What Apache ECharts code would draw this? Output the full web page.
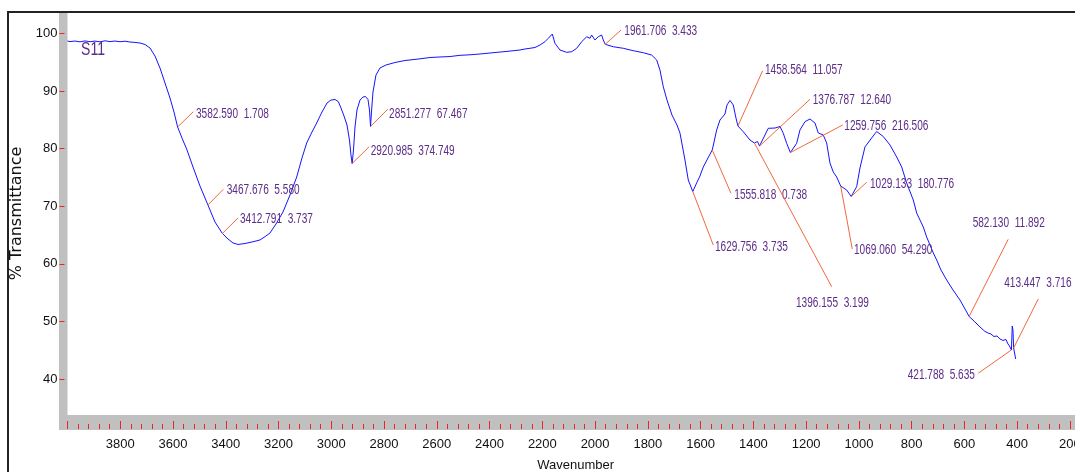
<!DOCTYPE html>
<html>
<head>
<meta charset="utf-8">
<script src="https://cdn.jsdelivr.net/npm/echarts@6/dist/echarts.min.js"></script>
<style>
  html, body { margin: 0; padding: 0; background: #fff; }
  #chart { width: 1075px; height: 472px; }
</style>
</head>
<body>
<div id="chart"></div>
<script>
// FTIR spectrum of sample S11: wavenumber (cm-1) vs. % transmittance
const wavenumber = [
  4000, 3990.5, 3971.6, 3952.6, 3933.7, 3914.7, 3895.8, 3876.8, 3857.9, 3838.9,
  3819.9, 3801, 3782, 3763.1, 3744.1, 3725.2, 3706.2, 3687.3, 3668.3, 3649.4,
  3630.4, 3611.5, 3596.3, 3582.590, 3566, 3547, 3524.3, 3497.8, 3467.676, 3440.9,
  3412.791, 3391.6, 3372.7, 3353.7, 3327.2, 3300.6, 3270.3, 3247.6, 3232.4, 3209.7,
  3183.1, 3156.6, 3131.2, 3111.1, 3093.3, 3073.2, 3055.4, 3035.3, 3016.3, 3001.2,
  2986, 2973.5, 2963.3, 2951.9, 2940.5, 2931.1, 2925.4, 2920.985, 2915.9, 2910.2,
  2902.6, 2891.2, 2879.9, 2870.4, 2860.9, 2855.2, 2851.277, 2847.7, 2842, 2830.6,
  2815.4, 2792.7, 2758.6, 2720.7, 2663.8, 2625.9, 2588, 2550.1, 2512.2, 2474.3,
  2436.4, 2398.5, 2360.6, 2330.3, 2303.7, 2284.8, 2265.8, 2246.9, 2227.9, 2208.9,
  2190, 2177.5, 2171, 2162.3, 2152.1, 2133.1, 2107.7, 2088.8, 2069.8, 2050.9,
  2031.9, 2019.4, 2013, 2000.5, 1987.9, 1975.1, 1969, 1961.706, 1931.1, 1893.2,
  1855.3, 1817.4, 1785.5, 1766.6, 1754.1, 1741.6, 1727.5, 1708.6, 1689.6, 1678.3,
  1659.3, 1646.8, 1629.756, 1615, 1602.5, 1589.9, 1572.1, 1555.818, 1539.2, 1526.6,
  1507.7, 1500.1, 1488.7, 1476.2, 1466, 1458.564, 1438.3, 1412.9, 1396.155, 1384.5,
  1376.787, 1356.1, 1343.6, 1318.2, 1299.2, 1286.7, 1273.8, 1259.756, 1235.9, 1223.4,
  1204.4, 1185.5, 1166.5, 1154, 1135.1, 1122.2, 1109.7, 1097.2, 1084.3, 1069.060,
  1046.4, 1029.133, 1008.5, 995.9, 977, 951.6, 932.6, 907.6, 882.2, 856.8,
  837.9, 818.9, 793.9, 781, 756, 743.1, 718, 705.2, 688.9, 667.3,
  643.4, 616.8, 597.8, 582.130, 560, 541.1, 522.1, 510.8, 499.4, 488,
  476.6, 465.3, 453.9, 442.5, 434.9, 429.3, 421.788, 418.7, 416, 413.447,
  405.7
];
const transmittance = [
  98.66, 98.56, 98.66, 98.52, 98.68, 98.54, 98.65, 98.52, 98.70, 98.56,
  98.66, 98.54, 98.63, 98.49, 98.42, 98.32, 98.06, 97.45, 96.06, 93.98,
  91.37, 88.77, 86.34, 83.74, 81.83, 79.75, 76.80, 73.50, 70.20, 67.25,
  65.26, 64.30, 63.61, 63.35, 63.52, 63.78, 64.13, 64.82, 65.34, 66.90,
  68.99, 71.94, 75.06, 78.36, 80.96, 82.87, 84.43, 86.34, 87.90, 88.42,
  88.51, 88.16, 87.04, 85.65, 84.09, 81.48, 78.88, 77.40, 79.75, 83.74,
  86.69, 88.42, 88.94, 89.03, 88.51, 86.69, 83.83, 86.34, 89.81, 92.76,
  93.98, 94.50, 94.93, 95.28, 95.57, 95.80, 95.89, 95.97, 96.18, 96.27,
  96.41, 96.58, 96.75, 96.88, 97.01, 97.10, 97.28, 97.40, 97.54, 97.97,
  98.54, 99.13, 99.36, 99.88, 98.26, 97.10, 96.70, 96.81, 97.40, 98.54,
  99.41, 99.13, 99.70, 98.84, 99.41, 99.70, 98.84, 98.09, 97.67, 97.40,
  96.98, 96.63, 96.23, 95.37, 93.63, 90.73, 88.42, 85.82, 84.09, 82.70,
  78.01, 74.54, 72.54, 74.02, 75.23, 76.80, 78.36, 79.75, 83.22, 84.95,
  86.00, 87.56, 88.34, 87.56, 85.30, 83.91, 82.92, 81.48, 80.96, 81.22,
  80.44, 82.35, 83.51, 83.56, 83.83, 82.65, 80.91, 79.31, 80.91, 83.22,
  84.66, 85.13, 84.43, 82.70, 82.35, 80.96, 77.49, 75.93, 75.06, 73.50,
  72.80, 71.68, 73.38, 76.62, 80.27, 81.83, 82.96, 82.09, 80.62, 78.53,
  76.80, 74.02, 71.07, 68.81, 66.38, 64.65, 61.87, 60.66, 58.92, 57.19,
  55.45, 53.71, 52.15, 50.85, 49.90, 49.03, 48.25, 47.99, 47.81, 47.38,
  47.47, 46.95, 46.69, 46.86, 46.08, 45.73, 45.04, 49.20, 48.51, 45.38,
  43.47
];

// Picked peaks: position (cm-1) and the value printed beside it
const peakWavenumbers = [
  3582.590, 3467.676, 3412.791, 2920.985, 2851.277, 1961.706, 1458.564, 1376.787,
  1259.756, 1555.818, 1629.756, 1396.155, 1069.060, 1029.133, 582.130, 413.447, 421.788
];
const peakValues = [
  '1.708', '5.580', '3.737', '374.749', '67.467', '3.433', '11.057', '12.640',
  '216.506', '0.738', '3.735', '3.199', '54.290', '180.776', '11.892', '3.716', '5.635'
];

// Axis ticks and labels
const xTickValues = [4000, 3800, 3600, 3400, 3200, 3000, 2800, 2600, 2400, 2200, 2000,
  1800, 1600, 1400, 1200, 1000, 800, 600, 400, 200];
const xLabelValues = [3800, 3600, 3400, 3200, 3000, 2800, 2600, 2400, 2200, 2000,
  1800, 1600, 1400, 1200, 1000, 800, 600, 400, 200];
const yTickValues = [40, 50, 60, 70, 80, 90, 100];

// Placement of each peak label relative to its point (px):
// text anchor (dx, dy) and leader-line end (ex, ey)
const peakLabelLayout = [
  { dx: 18.4, dy: -12.7, ex: 15.7, ey: -15.3 },
  { dx: 18.8, dy: -15.0, ex: 15.4, ey: -15.7 },
  { dx: 17.6, dy: -14.2, ex: 15.6, ey: -15.5 },
  { dx: 18.5, dy: -12.5, ex: 17.0, ey: -16.8 },
  { dx: 18.5, dy: -12.5, ex: 17.2, ey: -17.2 },
  { dx: 19.1, dy: -13.6, ex: 15.8, ey: -14.3 },
  { dx: 27.0, dy: -56.0, ex: 24.7, ey: -55.3 },
  { dx: 53.2, dy: -46.0, ex: 50.5, ey: -46.7 },
  { dx: 53.9, dy: -26.5, ex: 52.3, ey: -27.5 },
  { dx: 22.0, dy: 45.0, ex: 18.7, ey: 43.3 },
  { dx: 22.2, dy: 55.2, ex: 20.5, ey: 53.5 },
  { dx: 41.6, dy: 160.3, ex: 77.3, ey: 143.7 },
  { dx: 13.3, dy: 64.0, ex: 11.6, ey: 63.0 },
  { dx: 18.8, dy: -12.5, ex: 15.5, ey: -14.2 },
  { dx: 3.5, dy: -93.8, ex: 39.1, ey: -77.2 },
  { dx: -9.4, dy: -64.7, ex: 24.6, ey: -49.0 },
  { dx: -36.5, dy: 25.0, ex: -33.2, ey: 23.3, align: 'right' }
];

const SANS = "'Liberation Sans', Arial, sans-serif";
const NARROW_SCALE = 0.72;   // horizontally condensed lettering
const CURVE = '#1414ff';
const LEADER = '#f2683c';
const PURPLE = '#5c2d88';
const TICK_RED = '#ee2424';
const BAND = '#c0c0c0';

// Read the spectrum at a given wavenumber (arrays run high -> low)
function curveAt(w) {
  for (let j = 0; j < wavenumber.length - 1; j++) {
    const a = wavenumber[j], b = wavenumber[j + 1];
    if (w <= a && w >= b) {
      const t = a === b ? 0 : (a - w) / (a - b);
      return transmittance[j] + t * (transmittance[j + 1] - transmittance[j]);
    }
  }
  return transmittance[transmittance.length - 1];
}

const spectrum = wavenumber.map((w, i) => [w, transmittance[i]]);
const peaks = peakWavenumbers.map((w, i) => [w, curveAt(w), i]);

const chart = echarts.init(document.getElementById('chart'), null, { renderer: 'canvas' });

chart.setOption({
  animation: false,
  backgroundColor: '#fff',
  graphic: [
    {
      type: 'rect',
      z: 100,
      silent: true,
      shape: { x: 8, y: 12, width: 1300, height: 700 },
      style: { fill: 'none', stroke: '#222', lineWidth: 2 }
    },
    {
      type: 'text',
      z: 100,
      silent: true,
      x: 81,
      y: 40,
      scaleX: 0.74,
      style: { text: 'S11', fill: PURPLE, font: '19px ' + SANS, verticalAlign: 'top' }
    }
  ],
  grid: [
    // grey frame band behind the plot area
    { left: 59, top: 13, right: -60, bottom: 42, show: true, backgroundColor: BAND, borderWidth: 0, outerBoundsMode: 'none', containLabel: false },
    // plot area
    { left: 67.5, top: 12, right: -47.7, bottom: 57, show: true, backgroundColor: '#fff', borderWidth: 0, outerBoundsMode: 'none', containLabel: false }
  ],
  xAxis: [
    { gridIndex: 0, type: 'value', show: false, min: 0, max: 1 },
    {
      gridIndex: 1,
      type: 'value',
      inverse: true,
      min: 0,
      max: 4000,
      interval: 200,
      position: 'bottom',
      offset: 14,
      name: 'Wavenumber',
      nameLocation: 'middle',
      nameGap: 30,
      nameTextStyle: { color: '#111', fontSize: 13, fontFamily: SANS, padding: [0, 39, 0, 0] },
      axisLine: { show: false, onZero: false, lineStyle: { color: TICK_RED } },
      axisTick: {
        show: true,
        inside: true,
        length: 8,
        customValues: xTickValues,
        lineStyle: { color: TICK_RED, width: 1 }
      },
      minorTick: { show: true, splitNumber: 5, length: 5, lineStyle: { color: TICK_RED, width: 1 } },
      axisLabel: {
        customValues: xLabelValues,
        formatter: (v) => String(v),
        margin: 9,
        color: '#111',
        fontSize: 13,
        fontFamily: SANS
      },
      splitLine: { show: false },
      minorSplitLine: { show: false }
    }
  ],
  yAxis: [
    { gridIndex: 0, type: 'value', show: false, min: 0, max: 1 },
    {
      gridIndex: 1,
      type: 'value',
      min: 33.75,
      max: 103.7,
      position: 'left',
      offset: 8,
      name: '% Transmittance',
      nameLocation: 'middle',
      nameRotate: 90,
      nameGap: 34,
      nameTextStyle: { color: '#111', fontSize: 16, fontFamily: "'DejaVu Sans', sans-serif" },
      axisLine: { show: false, onZero: false, lineStyle: { color: TICK_RED } },
      axisTick: { show: true, inside: true, length: 5, customValues: yTickValues, lineStyle: { color: TICK_RED, width: 1 } },
      axisLabel: {
        customValues: yTickValues,
        formatter: (v) => String(v),
        margin: 2,
        color: '#111',
        fontSize: 13,
        fontFamily: SANS
      },
      splitLine: { show: false }
    }
  ],
  series: [
    {
      name: 'S11',
      type: 'line',
      xAxisIndex: 1,
      yAxisIndex: 1,
      data: spectrum,
      showSymbol: false,
      symbol: 'none',
      lineStyle: { color: CURVE, width: 1 },
      z: 3
    },
    {
      type: 'custom',
      xAxisIndex: 1,
      yAxisIndex: 1,
      data: peaks,
      z: 5,
      clip: false,
      renderItem: function (params, api) {
        const i = api.value(2);
        const p = api.coord([api.value(0), api.value(1)]);
        const L = peakLabelLayout[i];
        const text = peakWavenumbers[i].toFixed(3) + '  ' + peakValues[i];
        return {
          type: 'group',
          children: [
            {
              type: 'line',
              shape: { x1: p[0], y1: p[1], x2: p[0] + L.ex, y2: p[1] + L.ey },
              style: { stroke: LEADER, lineWidth: 1 }
            },
            {
              type: 'text',
              x: p[0] + L.dx,
              y: p[1] + L.dy,
              scaleX: NARROW_SCALE,
              style: {
                text: text,
                fill: PURPLE,
                font: '14px ' + SANS,
                align: L.align || 'left',
                verticalAlign: 'middle'
              }
            }
          ]
        };
      }
    }
  ]
});
</script>
</body>
</html>
